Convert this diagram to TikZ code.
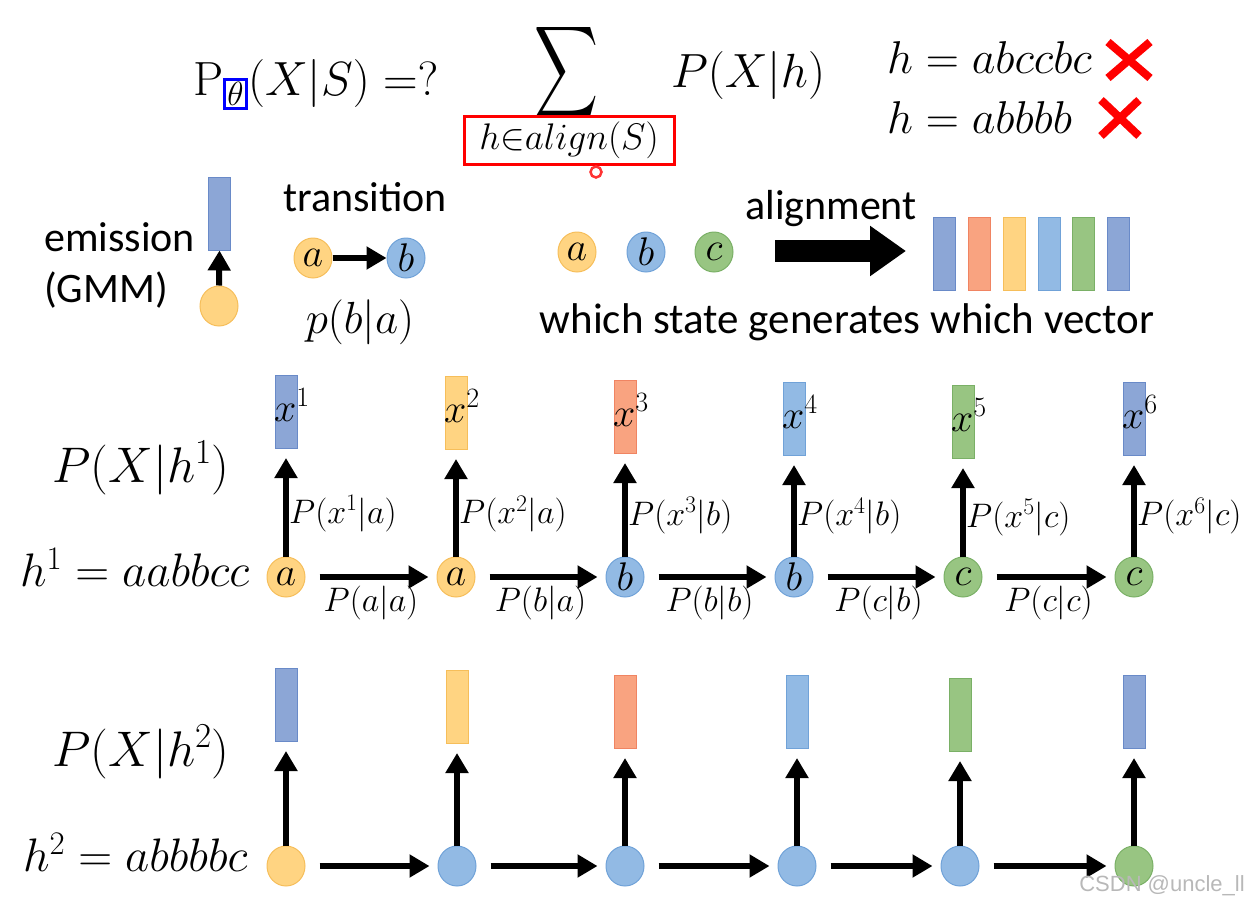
\RequirePackage{fix-cm}
\documentclass[tikz,border=0pt]{standalone}
\usepackage{fontspec}
\setsansfont{Carlito}
\usetikzlibrary{arrows.meta,shapes.geometric}
\definecolor{cblue}{RGB}{140,166,214}\definecolor{cblueD}{RGB}{105,138,200}
\definecolor{cyel}{RGB}{255,212,130}\definecolor{cyelD}{RGB}{246,190,90}
\definecolor{clb}{RGB}{146,186,228}\definecolor{clbD}{RGB}{112,162,216}
\definecolor{csal}{RGB}{249,163,128}\definecolor{csalD}{RGB}{240,132,98}
\definecolor{cgr}{RGB}{152,197,130}\definecolor{cgrD}{RGB}{122,176,102}
\newcommand{\fsz}[1]{\fontsize{#1}{#1}\selectfont}
\tikzset{
  st/.style={ellipse, minimum width=38pt, minimum height=40pt, inner sep=0pt, line width=1pt, font=\fsz{40}},
  sa/.style={st, fill=cyel, draw=cyelD},
  sb/.style={st, fill=clb, draw=clbD},
  sc/.style={st, fill=cgr, draw=cgrD},
  vec/.style={rectangle, minimum width=22pt, minimum height=73pt, inner sep=0pt, line width=1pt},
  vb/.style={vec, fill=cblue, draw=cblueD},
  vy/.style={vec, fill=cyel, draw=cyelD},
  vl/.style={vec, fill=clb, draw=clbD},
  vs/.style={vec, fill=csal, draw=csalD},
  vg/.style={vec, fill=cgr, draw=cgrD},
  arr/.style={line width=6pt, -{Triangle[width=22pt,length=20pt]}},
  sanslab/.style={font=\sffamily\fsz{42}, inner sep=0pt},
  plab/.style={font=\fsz{34}, inner sep=1pt},
  xlab/.style={font=\fsz{40}, inner sep=0pt, anchor=base west},
}
\begin{document}
\begin{tikzpicture}[x=1pt,y=-1pt]
\useasboundingbox (0,0) rectangle (1251,911);
% ---------- title ----------
\node[anchor=base west, font=\fsz{48}, inner sep=0pt] (title) at (193,95)
  {\setlength{\fboxrule}{3pt}\setlength{\fboxsep}{1pt}$\mathrm{P}_{\fcolorbox{blue}{white}{$\scriptstyle\theta$}}(X|S) =?$};
\node[inner sep=0pt] (sum) at (567,72) {\resizebox*{64pt}{102pt}{$\displaystyle\sum$}};
\node[draw=red, line width=3pt, minimum width=210pt, minimum height=48pt, inner sep=0pt, font=\fsz{37}] (alignbox) at (569,140) {$h{\in}align(S)$};
\node[circle, draw=red!80, fill=white, line width=2.5pt, minimum size=11pt, inner sep=0pt] (dot) at (596,172) {};
\node[font=\fsz{48}, inner sep=0pt] (pxh) at (748,75) {$P(X|h)$};
\node[anchor=west, font=\fsz{46}, inner sep=0pt] (h1bad) at (887,58) {$h=abccbc$};
\node[anchor=west, font=\fsz{46}, inner sep=0pt] (h2bad) at (887,118) {$h=abbbb$};
\draw[red, line width=8pt] (1108,42) -- (1150,78) (1108,78) -- (1150,42);
\draw[red, line width=8pt] (1101,100) -- (1139,136) (1101,136) -- (1139,100);
% ---------- emission ----------
\node[sanslab, anchor=west] (emis) at (44,237) {emission};
\node[sanslab, anchor=west] (gmm) at (44,290) {(GMM)};
\node[vb] (ev) at (219.5,213.5) {};
\node[sa] (es) at (219,306) {};
\draw[arr] (es.north) -- (ev.south);
% ---------- transition ----------
\node[sanslab] (trans) at (365,197) {transition};
\node[sa] (ta) at (313,258) {$a$};
\node[sb] (tb) at (406,258) {$b$};
\draw[arr] (ta) -- (tb);
\node[font=\fsz{45}, inner sep=0pt] (pba) at (360,322) {$p(b|a)$};
% ---------- alignment ----------
\node[sa] (aa) at (577,252) {$a$};
\node[sb] (ab) at (646,252) {$b$};
\node[sc] (ac) at (714,252) {$c$};
\node[sanslab] (alig) at (831,209) {alignment};
\coordinate (alstart) at (775,251);
\coordinate (alend) at (906,251);
\draw[line width=22pt, -{Triangle[width=48pt,length=36pt]}] (alstart) -- (alend);
\foreach \k/\xx/\sty in {1/944/vb, 2/979/vs, 3/1014/vy, 4/1049/vl, 5/1083/vg, 6/1118/vb}
  \node[\sty, anchor=north] (av\k) at (\xx,217) {};
\node[sanslab, font=\sffamily\fsz{43}] (which) at (847,322) {which state generates which vector};
% ---------- h1 row ----------
\node[font=\fsz{50}, inner sep=0pt] (pxh1) at (141,468) {$P(X|h^1)$};
\node[anchor=west, font=\fsz{47}, inner sep=0pt] (h1) at (20,567) {$h^1=aabbcc$};
\foreach \i/\xx/\tp/\vc/\sc/\lab in {1/286/375/vb/sa/a, 2/456/376/vy/sa/a, 3/625/380/vs/sb/b, 4/794/382/vl/sb/b, 5/963/385/vg/sc/c, 6/1134/382/vb/sc/c}{
  \node[\vc, anchor=north] (v1\i) at (\xx,\tp) {};
  \node[xlab] (xl\i) at (\xx-12,\tp+46) {$x^{\i}$};
  \node[\sc] (s1\i) at (\xx,577) {$\lab$};
  \draw[arr, shorten >=9pt] (s1\i) -- (v1\i);
  \path (s1\i.north) -- (v1\i.south) node[pos=0.4, right=2pt, plab] (e1\i) {$P(x^{\i}|\lab)$};
}
\foreach \i/\j/\lab in {1/2/P(a|a), 2/3/P(b|a), 3/4/P(b|b), 4/5/P(c|b), 5/6/P(c|c)}
  \draw[arr, shorten <=14pt, shorten >=8pt] (s1\i) -- (s1\j) node[midway, below=5pt, plab] {$\lab$};
% ---------- h2 row ----------
\node[font=\fsz{50}, inner sep=0pt] (pxh2) at (141,752) {$P(X|h^2)$};
\node[anchor=west, font=\fsz{47}, inner sep=0pt] (h2) at (23,852) {$h^2=abbbbc$};
\foreach \i/\xx/\tp/\vc/\sc in {1/286/668/vb/sa, 2/457/670/vy/sb, 3/625/675/vs/sb, 4/797/675/vl/sb, 5/960/678/vg/sb, 6/1134/675/vb/sc}{
  \node[\vc, anchor=north] (v2\i) at (\xx,\tp) {};
  \node[\sc] (s2\i) at (\xx,866) {};
  \draw[arr, shorten >=9pt] (s2\i) -- (v2\i);
}
\foreach \i/\j in {1/2, 2/3, 3/4, 4/5, 5/6}
  \draw[arr, shorten <=14pt, shorten >=8pt] (s2\i) -- (s2\j);
% ---------- watermark ----------
\node[font=\fontspec{Liberation Sans}\fsz{22}, text=black!28, inner sep=0pt] (wm) at (1162,886) {CSDN @uncle\_ll};
\end{tikzpicture}
\end{document}
